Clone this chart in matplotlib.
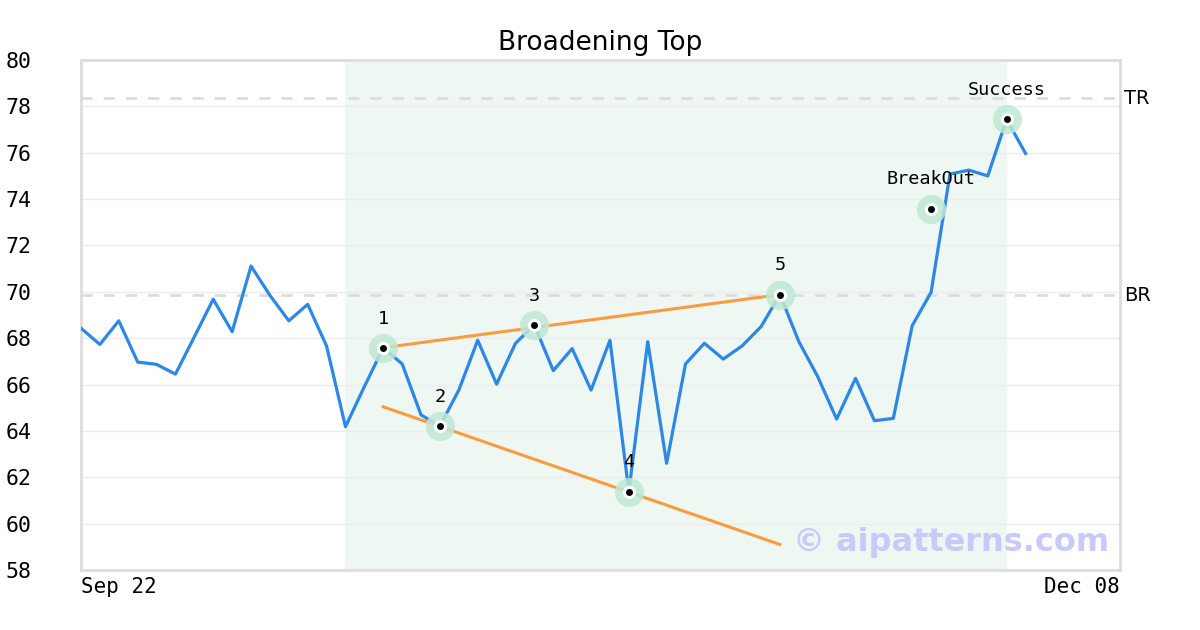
import numpy as np
import matplotlib
matplotlib.use('Agg')
import matplotlib.pyplot as plt
import matplotlib.transforms as mtransforms

# data (x is the bar index from Sep 22)
price = [68.43, 67.73, 68.75, 66.97, 66.87, 66.45, 68.06, 69.68, 68.28, 71.11,
         69.85, 68.75, 69.46, 67.66, 64.18, 65.91, 67.59, 66.89, 64.69, 64.21,
         65.76, 67.91, 66.02, 67.78, 68.57, 66.60, 67.55, 65.76, 67.91, 61.38,
         67.85, 62.60, 66.89, 67.78, 67.10, 67.67, 68.50, 69.88, 67.85, 66.34,
         64.51, 66.27, 64.44, 64.54, 68.54, 69.98, 75.08, 75.25, 75.00, 77.44,
         75.97]
pivot_idx = [16, 19, 24, 29, 37]
pivot_labels = ['1', '2', '3', '4', '5']
breakout_idx = 45
breakout_val = 73.59
success_idx = 49
upper_line = ([16, 37], [67.59, 69.88])
lower_line = ([16, 37], [65.04, 59.10])
pattern_span = (14, 49)
tr_level = 78.34
br_level = 69.86
xticks = [0, 55]
xticklabels = ['Sep 22', 'Dec 08']
yticks = list(range(58, 81, 2))

blue = '#2b88e8'
orange = '#fa9b3e'
halo = '#bfe8d4'
mono = 'DejaVu Sans Mono'

fig = plt.figure(figsize=(12, 6.3), dpi=100)
ax = fig.add_axes([81/1200, 60/630, 1039/1200, 510/630])

x = np.arange(len(price))
ax.axvspan(*pattern_span, color='#eff7f3', zorder=0, lw=0)
for y in yticks:
    ax.axhline(y, color='#ececec', lw=1, zorder=1)
ax.axhline(tr_level, color='#dddddd', lw=2, ls=(0, (4, 4)), zorder=1)
ax.axhline(br_level, color='#dddddd', lw=2, ls=(0, (4, 4)), zorder=1)

ax.plot(x, price, color=blue, lw=2.3, zorder=3)
ax.plot(*upper_line, color=orange, lw=2.2, zorder=4)
ax.plot(*lower_line, color=orange, lw=2.2, zorder=4)

# marked points: green halo, white ring, black dot
px = pivot_idx + [breakout_idx, success_idx]
py = [price[i] for i in pivot_idx] + [breakout_val, price[success_idx]]
plabels = pivot_labels + ['BreakOut', 'Success']
ax.plot(px, py, 'o', ms=21, color=halo, alpha=0.85, mew=0, zorder=5)
ax.plot(px, py, 'o', ms=9.5, color='white', mew=0, zorder=6)
ax.plot(px, py, 'o', ms=5, color='black', mew=0, zorder=7)
for xi, yi, lab in zip(px, py, plabels):
    ax.annotate(lab, (xi, yi), xytext=(0, 21), textcoords='offset points',
                ha='center', va='center', fontsize=13.3, family=mono, zorder=8)

# TR / BR labels outside the right edge
trans = mtransforms.blended_transform_factory(ax.transAxes, ax.transData)
ax.text(1.004, tr_level, 'TR', transform=trans, ha='left', va='center', fontsize=14)
ax.text(1.004, br_level, 'BR', transform=trans, ha='left', va='center', fontsize=14)

ax.text(0.99, 0.053, '\u00a9 aipatterns.com', transform=ax.transAxes, ha='right',
        va='center', fontsize=23, fontweight='bold', color='#c9c9fb', zorder=9)

ax.set_xlim(0, 55)
ax.set_ylim(58, 80)
ax.set_xticks(xticks, xticklabels, family=mono, fontsize=15)
labs = ax.get_xticklabels()
labs[0].set_ha('left')
labs[1].set_ha('right')
ax.set_yticks(yticks, [str(v) for v in yticks], family=mono, fontsize=15.5)
for lab in ax.get_yticklabels():
    lab.set_ha('left')
ax.tick_params(axis='y', length=0, pad=54.5)
ax.tick_params(axis='x', length=0, pad=5)
for sp in ax.spines.values():
    sp.set_color('#dddddd')
    sp.set_linewidth(2)
ax.set_title('Broadening Top', fontsize=19, pad=7)

fig.savefig('out.png', dpi=100)
